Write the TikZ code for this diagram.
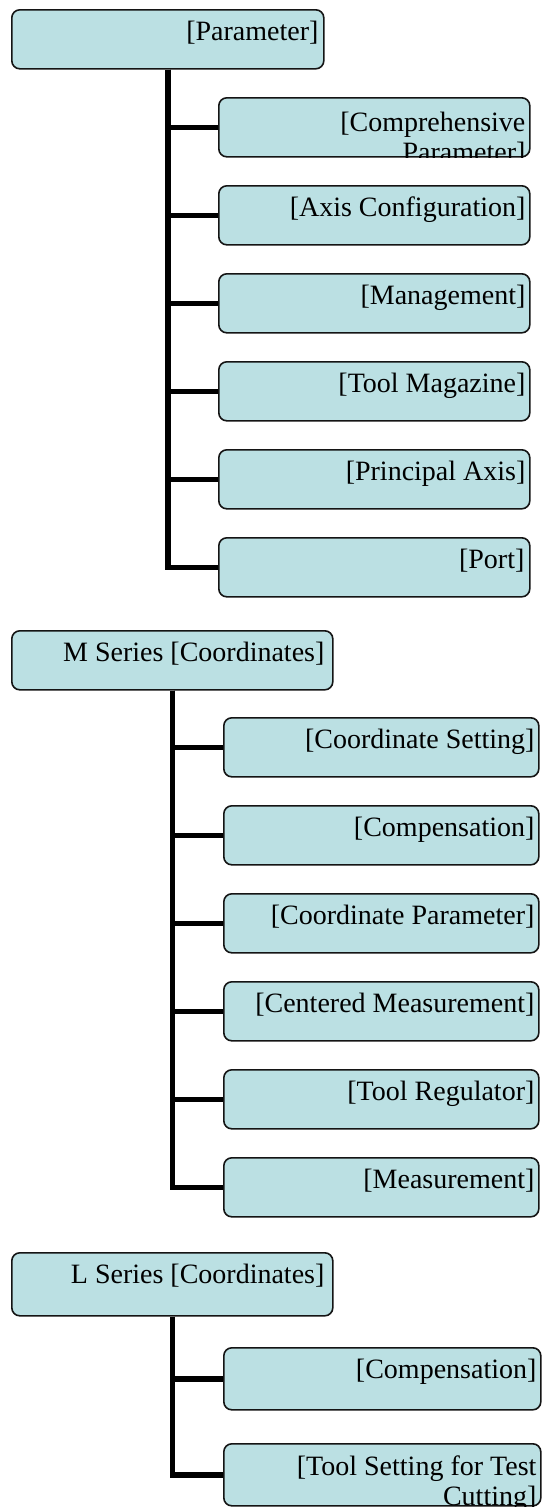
\documentclass[tikz,border=0pt]{standalone}
\usepackage{fontspec}
\setmainfont{Liberation Serif}
\usetikzlibrary{backgrounds,calc}
\definecolor{boxfill}{RGB}{187,224,227}
\definecolor{boxline}{RGB}{20,20,20}
\tikzset{
  box/.style={draw=boxline, line width=1.6pt, fill=boxfill, rounded corners=8pt, inner sep=0pt, anchor=north west},
  txt/.style={anchor=base east, inner sep=0pt, align=right, font=\fontsize{28}{30}\selectfont},
  conn/.style={line width=5.5pt, draw=black},
}
% [right padding] name, x, y, width, height, text, baseline offset of last line
\newcommand\bx[8][5]{%
  \node[box, minimum width=#5pt, minimum height=#6pt] (#2) at (#3,#4) {};
  \begin{scope}
    \clip[rounded corners=8pt] (#2.north west) rectangle (#2.south east);
    \node[txt] (#2t) at ($(#2.north east)+(-#1pt,-#8pt)$) {#7};
  \end{scope}}
\begin{document}
\begin{tikzpicture}[x=1pt,y=-1pt]
\useasboundingbox (0,0) rectangle (547,1508);
% Parameter group
\bx[6]{p}{11}{9}{312}{59}{[Parameter]}{31}
\bx{p1}{218}{97}{311}{59}{[Comprehensive\\Parameter]}{64}
\bx{p2}{218}{185}{311}{59}{[Axis Configuration]}{31}
\bx{p3}{218}{273}{311}{59}{[Management]}{31}
\bx{p4}{218}{361}{311}{59}{[Tool Magazine]}{31}
\bx{p5}{218}{449}{311}{59}{[Principal Axis]}{31}
\bx[6]{p6}{218}{537}{311}{59}{[Port]}{31}
% M group
\bx[9]{m}{11}{630}{321}{59}{M Series [Coordinates]}{31}
\bx{m1}{223}{717}{315}{59}{[Coordinate Setting]}{31}
\bx{m2}{223}{805}{315}{59}{[Compensation]}{31}
\bx{m3}{223}{893}{315}{59}{[Coordinate Parameter]}{31}
\bx{m4}{223}{981}{315}{59}{[Centered Measurement]}{31}
\bx{m5}{223}{1069}{315}{59}{[Tool Regulator]}{31}
\bx{m6}{223}{1157}{315}{59}{[Measurement]}{31}
% L group
\bx[9]{l}{11}{1252}{321}{63}{L Series [Coordinates]}{31}
\bx{l1}{223}{1347}{317}{62}{[Compensation]}{31}
\bx{l2}{223}{1443}{317}{62}{[Tool Setting for Test\\Cutting]}{62}
\begin{scope}[on background layer]
\foreach \c in {p1,p2,p3,p4,p5,p6} \draw[conn] (p.south) |- (\c.west);
\foreach \c in {m1,m2,m3,m4,m5,m6} \draw[conn] (m.south) |- (\c.west);
\foreach \c in {l1,l2} \draw[conn] (l.south) |- (\c.west);
\end{scope}
\end{tikzpicture}
\end{document}
